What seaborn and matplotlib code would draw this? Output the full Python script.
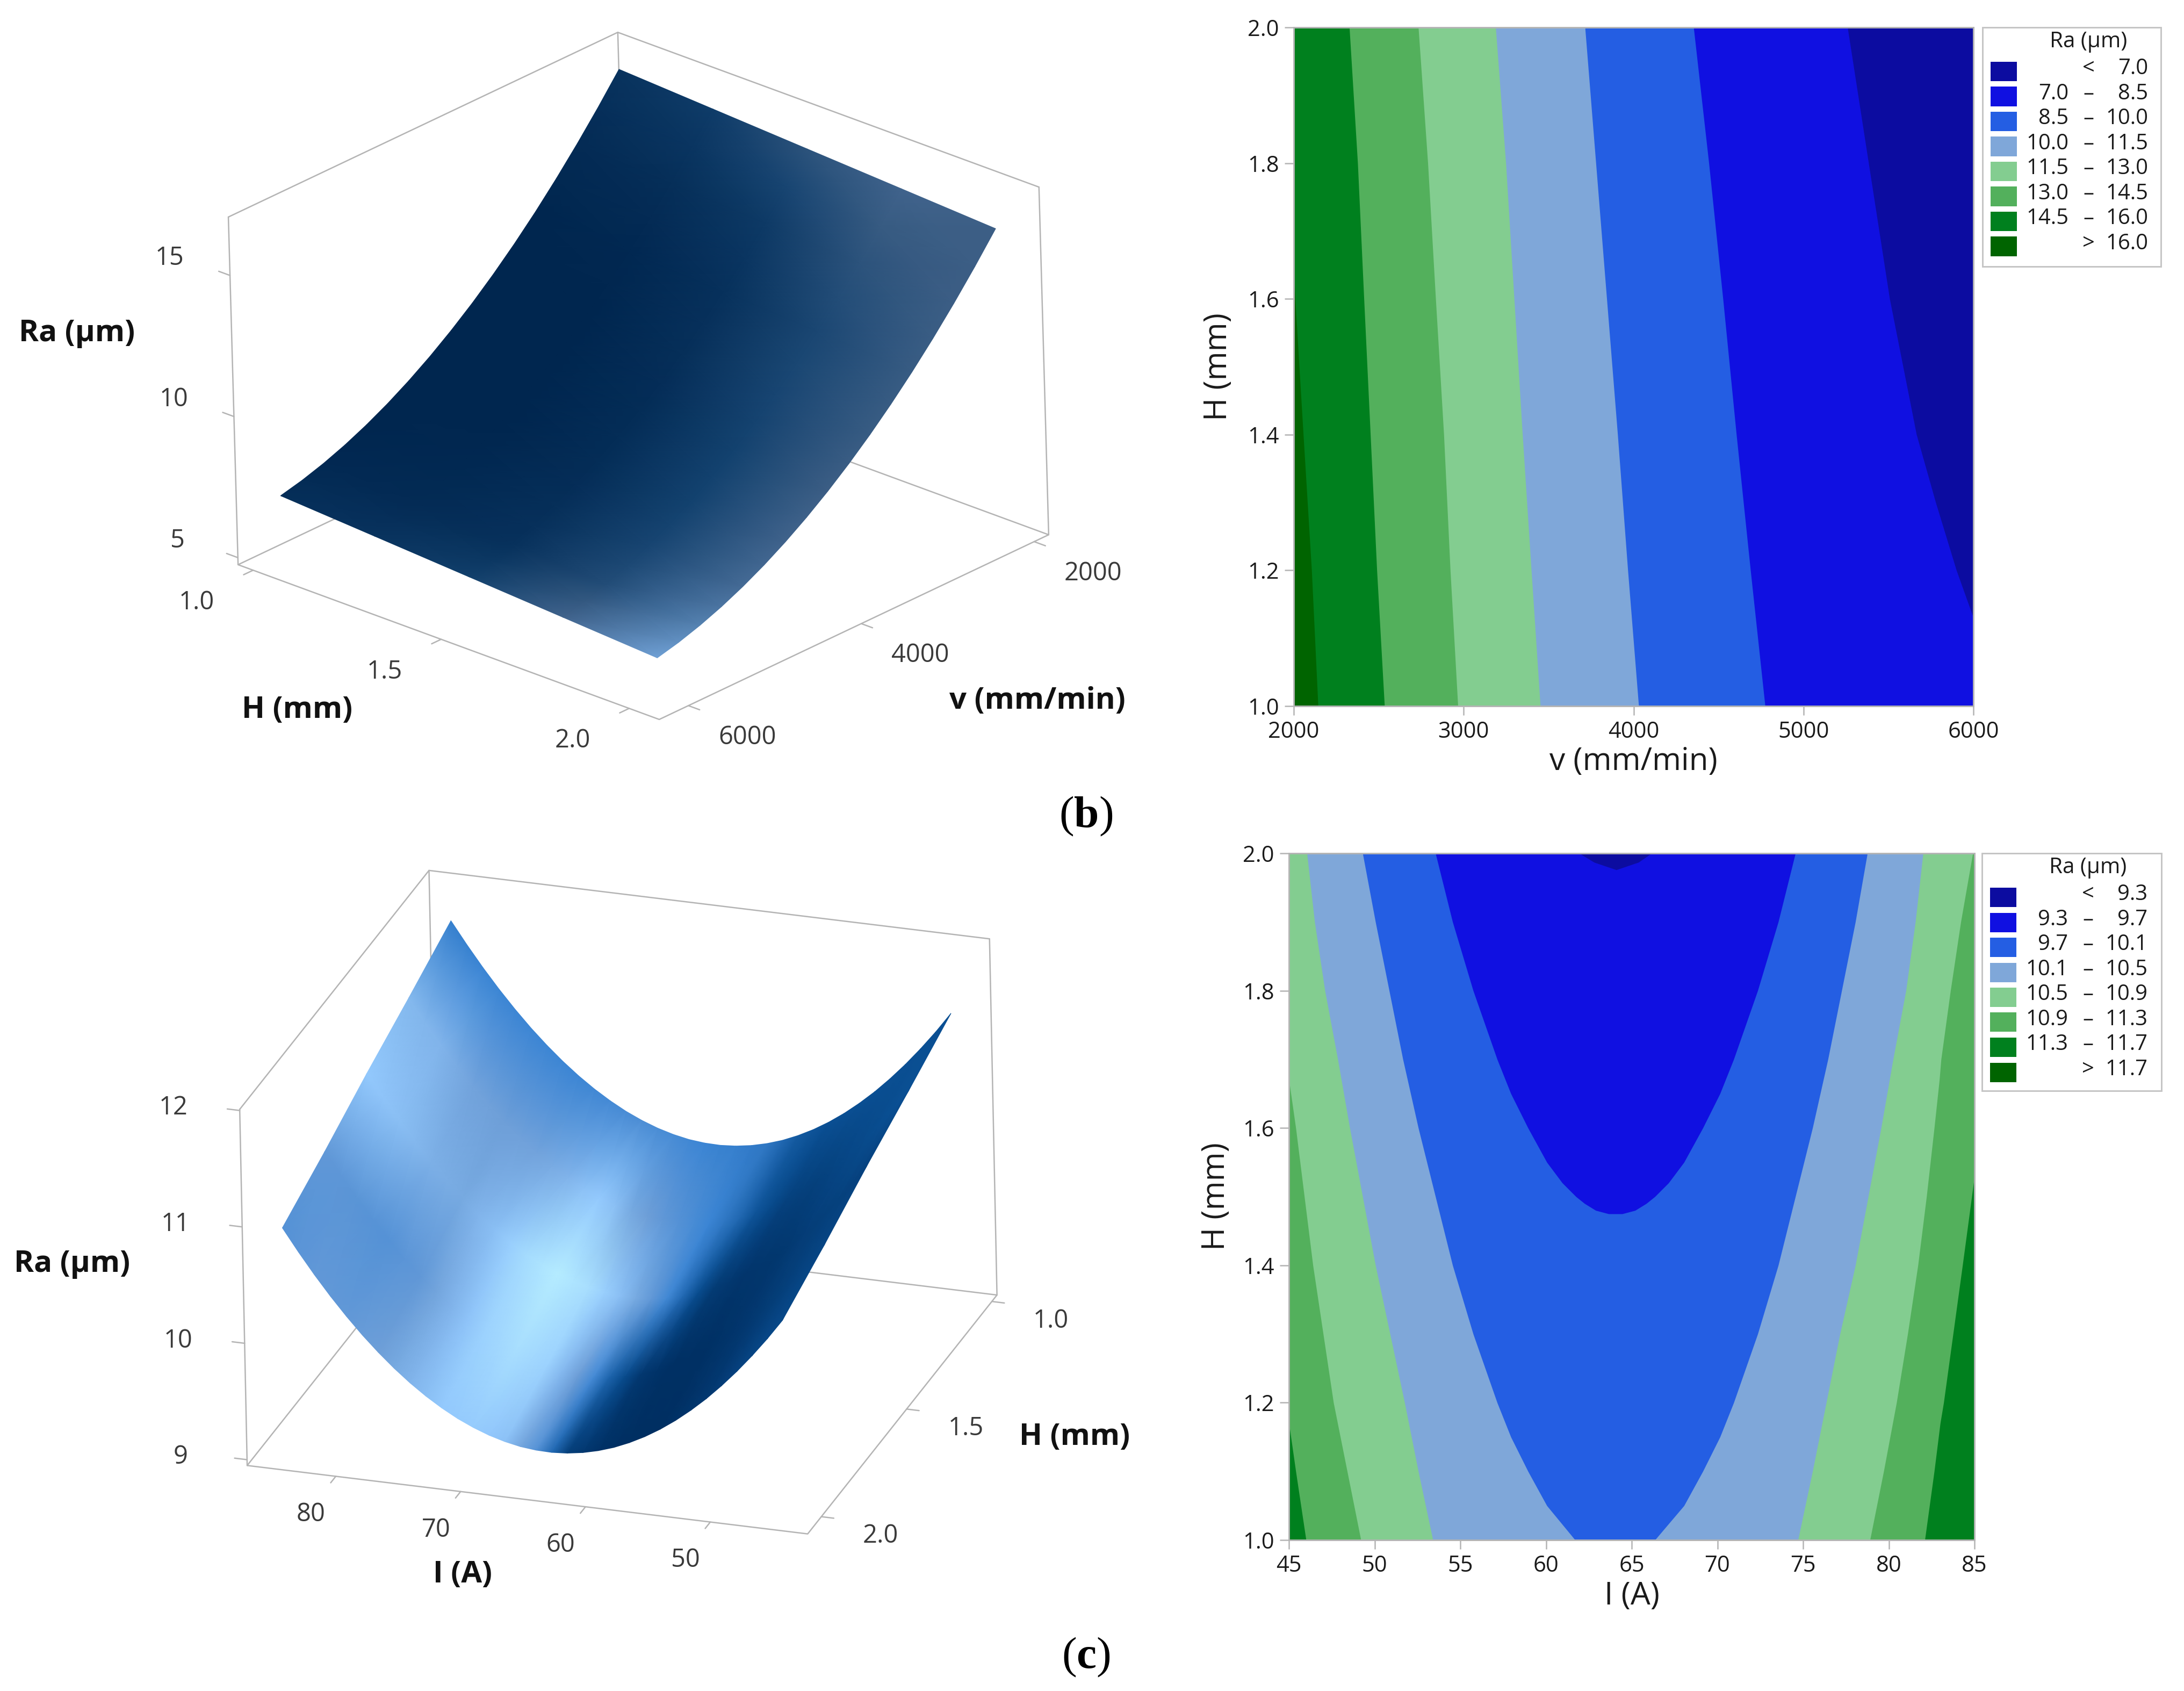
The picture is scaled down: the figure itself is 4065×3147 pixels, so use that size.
import numpy as np
import matplotlib
matplotlib.use('Agg')
import matplotlib.pyplot as plt
import seaborn as sns
from matplotlib.collections import QuadMesh
from matplotlib.patches import Rectangle
from mpl_toolkits.mplot3d import proj3d

W, H = 4065, 3147

contour_hex = ['#0C0CA0', '#1010E1', '#245EE3', '#7FA7D9', '#83CD90', '#53B05C', '#00801E', '#006400']

# top surface, Ra over v and H
v_surf = [2000, 2250, 2500, 2750, 3000, 3250, 3500, 3750, 4000, 4250, 4500, 4750, 5000, 5250, 5500, 5750, 6000]
h_surf = [1.0, 1.25, 1.5, 1.75, 2.0]
ra_surf_b = [
    [16.2, 15.22, 14.294, 13.421, 12.6, 11.833, 11.119, 10.457, 9.85, 9.295, 8.794, 8.345, 7.95, 7.607, 7.318, 7.082, 6.9],
    [16.013, 15.031, 14.103, 13.229, 12.406, 11.638, 10.922, 10.259, 9.65, 9.094, 8.591, 8.14, 7.744, 7.399, 7.109, 6.871, 6.688],
    [15.825, 14.842, 13.913, 13.036, 12.213, 11.443, 10.725, 10.061, 9.45, 8.892, 8.388, 7.936, 7.538, 7.192, 6.9, 6.66, 6.475],
    [15.638, 14.653, 13.722, 12.844, 12.019, 11.247, 10.528, 9.862, 9.25, 8.691, 8.184, 7.731, 7.331, 6.984, 6.69, 6.449, 6.263],
    [15.45, 14.464, 13.531, 12.651, 11.825, 11.052, 10.331, 9.664, 9.05, 8.489, 7.981, 7.526, 7.125, 6.776, 6.481, 6.238, 6.05],
]
shade_b = [
    [.12, .085, .05, .025, 0, 0, 0, 0, 0, 0, 0, 0, 0, .015, .03, .055, .08],
    [.2, .14, .08, .05, .02, .01, 0, 0, 0, 0, 0, .01, .02, .035, .05, .085, .12],
    [.4, .28, .18, .14, .1, .09, .08, .07, .06, .06, .06, .07, .08, .09, .1, .16, .22],
    [.55, .47, .4, .35, .3, .29, .28, .265, .25, .25, .25, .265, .28, .315, .35, .45, .55],
    [.5, .5, .5, .49, .48, .48, .48, .49, .5, .525, .55, .585, .62, .71, .8, .9, 1.0],
]

# bottom surface, Ra over I and H
i_surf = [45, 46.25, 47.5, 48.75, 50, 51.25, 52.5, 53.75, 55, 56.25, 57.5, 58.75, 60, 61.25, 62.5, 63.75,
          65, 66.25, 67.5, 68.75, 70, 71.25, 72.5, 73.75, 75, 76.25, 77.5, 78.75, 80, 81.25, 82.5, 83.75, 85]
ra_surf_c = [
    [11.389, 11.214, 11.052, 10.901, 10.762, 10.634, 10.519, 10.415, 10.323, 10.243, 10.175, 10.118, 10.074, 10.041, 10.02, 10.01,
     10.013, 10.027, 10.054, 10.092, 10.142, 10.203, 10.277, 10.362, 10.459, 10.568, 10.689, 10.821, 10.966, 11.122, 11.29, 11.47, 11.661],
    [11.189, 11.014, 10.852, 10.701, 10.562, 10.434, 10.319, 10.215, 10.123, 10.043, 9.975, 9.918, 9.874, 9.841, 9.82, 9.81,
     9.813, 9.827, 9.854, 9.892, 9.942, 10.003, 10.077, 10.162, 10.259, 10.368, 10.489, 10.621, 10.766, 10.922, 11.09, 11.27, 11.461],
    [10.999, 10.824, 10.662, 10.511, 10.372, 10.244, 10.129, 10.025, 9.933, 9.853, 9.785, 9.728, 9.684, 9.651, 9.63, 9.62,
     9.623, 9.637, 9.664, 9.702, 9.752, 9.813, 9.887, 9.972, 10.069, 10.178, 10.299, 10.431, 10.576, 10.732, 10.9, 11.08, 11.271],
    [10.789, 10.614, 10.452, 10.301, 10.162, 10.034, 9.919, 9.815, 9.723, 9.643, 9.575, 9.518, 9.474, 9.441, 9.42, 9.41,
     9.413, 9.427, 9.454, 9.492, 9.542, 9.603, 9.677, 9.762, 9.859, 9.968, 10.089, 10.221, 10.366, 10.522, 10.69, 10.87, 11.061],
    [10.599, 10.424, 10.262, 10.111, 9.972, 9.844, 9.729, 9.625, 9.533, 9.453, 9.385, 9.328, 9.284, 9.251, 9.23, 9.22,
     9.223, 9.237, 9.264, 9.302, 9.352, 9.413, 9.487, 9.572, 9.669, 9.778, 9.899, 10.031, 10.176, 10.332, 10.5, 10.68, 10.871],
]
shade_c = [
    [.2, .2, .2, .2, .2, .2, .2, .2, .2, .22, .24, .295, .35, .365, .38, .39,
     .4, .425, .45, .46, .47, .455, .44, .425, .41, .41, .41, .41, .41, .405, .4, .39, .38],
    [.2, .2, .19, .17, .15, .13, .11, .11, .12, .17, .22, .29, .35, .4, .45, .5,
     .55, .6, .65, .75, .8, .76, .7, .66, .62, .61, .6, .61, .62, .66, .7, .71, .72],
    [.12, .115, .11, .1, .09, .07, .05, .045, .04, .06, .08, .18, .3, .425, .55, .65,
     .75, .835, .92, .96, 1.0, .95, .9, .825, .75, .7, .65, .665, .68, .715, .75, .775, .8],
    [.14, .13, .12, .1, .08, .06, .04, .025, .01, .01, .01, .03, .06, .175, .28, .44,
     .6, .725, .85, .885, .92, .885, .85, .775, .7, .625, .55, .525, .5, .51, .52, .535, .55],
    [.16, .15, .14, .12, .09, .06, .04, .02, 0, 0, 0, .01, .02, .06, .1, .3,
     .5, .63, .76, .79, .82, .81, .8, .75, .7, .65, .6, .575, .55, .55, .55, .525, .5],
]

# contour (b), where each Ra level crosses H
levels_b = [7.0, 8.5, 10.0, 11.5, 13.0, 14.5, 16.0]
h_line = [1.0, 1.2, 1.4, 1.6, 1.8, 2.0]
h_70 = [1.0, 1.13, 1.2, 1.3, 1.4, 1.6, 1.8, 2.0]
v_70 = [6000, 6000, 5900, 5778, 5665, 5507, 5383, 5259]
v_85 = [4774, 4688, 4605, 4526, 4443, 4353]
v_100 = [4030, 3966, 3906, 3842, 3778, 3714]
v_115 = [3451, 3398, 3346, 3297, 3248, 3188]
v_130 = [2966, 2921, 2883, 2835, 2789, 2733]
v_145 = [2534, 2489, 2451, 2413, 2376, 2327]
h_160 = [1.0, 1.2, 1.4, 1.6, 1.65]
v_160 = [2143, 2105, 2056, 2008, 2000]

# contour (c), left and right crossing of each Ra level
levels_c = [9.3, 9.7, 10.1, 10.5, 10.9, 11.3, 11.7]
h_113 = [1.0, 1.1, 1.17, 1.2, 1.3, 1.4, 1.53, 2.0]
l_113 = [46.0, 45.4, 45, 45, 45, 45, 45, 45]
r_113 = [82.1, 82.65, 83.0, 83.2, 83.75, 84.3, 85, 85]
h_109 = [1.0, 1.1, 1.2, 1.3, 1.4, 1.5, 1.6, 1.67, 1.7, 1.8, 1.9, 2.0]
l_109 = [49.2, 48.4, 47.6, 47.0, 46.4, 45.9, 45.4, 45, 45, 45, 45, 45]
r_109 = [78.9, 79.7, 80.45, 81.1, 81.7, 82.2, 82.65, 82.95, 83.05, 83.6, 84.2, 84.9]
h_105 = [2.0, 1.9, 1.8, 1.7, 1.6, 1.5, 1.4, 1.3, 1.2, 1.1, 1.0]
l_105 = [46.05, 46.5, 47.1, 47.85, 48.55, 49.3, 50.05, 50.9, 51.75, 52.55, 53.4]
r_105 = [82.0, 81.55, 81.0, 80.25, 79.55, 78.8, 78.05, 77.15, 76.35, 75.55, 74.7]
h_101 = [2.0, 1.9, 1.8, 1.7, 1.6, 1.5, 1.4, 1.3, 1.2, 1.15, 1.1, 1.05, 1.0]
l_101 = [49.3, 50.05, 50.85, 51.65, 52.55, 53.55, 54.55, 55.75, 57.15, 57.95, 58.95, 60.05, 61.7]
r_101 = [78.75, 78.05, 77.25, 76.45, 75.55, 74.55, 73.55, 72.35, 70.95, 70.15, 69.15, 68.05, 66.35]
h_97 = [2.0, 1.95, 1.9, 1.85, 1.8, 1.75, 1.7, 1.65, 1.6, 1.55, 1.52, 1.5, 1.49, 1.48, 1.475]
l_97 = [53.55, 54.05, 54.55, 55.15, 55.75, 56.45, 57.15, 57.95, 58.95, 60.05, 60.95, 61.75, 62.25, 62.9, 63.65]
r_97 = [74.55, 74.05, 73.55, 72.95, 72.35, 71.65, 70.95, 70.15, 69.15, 68.05, 67.15, 66.35, 65.85, 65.2, 64.45]
h_93 = [2.0, 1.987, 1.976]
l_93 = [61.95, 62.8, 64.1]
r_93 = [66.15, 65.4, 64.1]


class FlatMesh(QuadMesh):
    # gouraud mesh on already projected points
    def do_3d_projection(self):
        return 0


def px_text(fig, x, y, s, **kw):
    fig.text(x / W, 1 - y / H, s, ha='center', va='center', **kw)


def to_display(ax, pts):
    pts = np.array(pts, dtype=float)
    x2, y2, _ = proj3d.proj_transform(pts[:, 0], pts[:, 1], pts[:, 2], ax.get_proj())
    return ax.transData.transform(np.column_stack([x2, y2]))


def fit_box(ax, aspect, corners, targets):
    # scale and move the axes so the box corners land on the target pixels
    size = 2800
    targets = np.array([[x, H - y] for x, y in targets], dtype=float)
    ax.set_position([0, 0, size / W, size / H])
    ax.apply_aspect()
    ax.set_box_aspect(aspect, zoom=1)
    p = to_display(ax, corners)
    scale = np.linalg.norm(targets[0] - targets[1]) / np.linalg.norm(p[0] - p[1])
    ax.set_box_aspect(aspect, zoom=scale)
    p = to_display(ax, corners)
    shift = targets.mean(axis=0) - p.mean(axis=0)
    ax.set_position([shift[0] / W, shift[1] / H, size / W, size / H])
    ax.apply_aspect()


def draw_box(ax, back, front, zlim):
    xb, yb = back
    xf, yf = front
    z0, z1 = zlim
    edges = [
        [(xb, yb, z0), (xb, yf, z0), (xf, yf, z0), (xf, yb, z0), (xb, yb, z0)],
        [(xb, yb, z0), (xb, yb, z1)],
        [(xb, yf, z0), (xb, yf, z1)],
        [(xf, yb, z0), (xf, yb, z1)],
        [(xb, yf, z1), (xb, yb, z1), (xf, yb, z1)],
    ]
    for e in edges:
        e = np.array(e)
        ax.plot(e[:, 0], e[:, 1], e[:, 2], color=box_color, lw=0.6, clip_on=False, zorder=1)


def draw_ticks(ax, starts, ends, labels, offset):
    for s, e, lab in zip(starts, ends, labels):
        ax.plot([s[0], e[0]], [s[1], e[1]], [s[2], e[2]], color=box_color, lw=0.6, clip_on=False, zorder=1)
        x2, y2, _ = proj3d.proj_transform(s[0], s[1], s[2], ax.get_proj())
        ax.annotate(lab, xy=(x2, y2), xytext=offset, textcoords='offset pixels', ha='center', va='center',
                    fontsize=11.3, color='#3a3a3a', annotation_clip=False)


def draw_surface(ax, xs, ys, zs, shade, cmap):
    X, Y = np.meshgrid(xs, ys)
    zs = np.array(zs)
    x2, y2, _ = proj3d.proj_transform(X.ravel(), Y.ravel(), zs.ravel(), ax.get_proj())
    coords = np.column_stack([x2, y2]).reshape(X.shape[0], X.shape[1], 2)
    mesh = FlatMesh(coords, shading='gouraud', cmap=cmap, norm=plt.Normalize(0, 1),
                    transform=ax.transData, antialiased=False, zorder=5)
    mesh.set_array(np.array(shade))
    mesh.set_clip_on(False)
    ax.add_collection(mesh, autolim=False)


def surface_axes(fig, xlim, ylim, zlim, elev, azim, roll):
    ax = fig.add_subplot(projection='3d', proj_type='ortho', computed_zorder=False)
    ax.set_xlim(*xlim, view_margin=0)
    ax.set_ylim(*ylim, view_margin=0)
    ax.set_zlim(*zlim, view_margin=0)
    ax.view_init(elev=elev, azim=azim, roll=roll)
    ax.set_axis_off()
    ax.patch.set_visible(False)
    return ax


def contour_axes(fig, box, xlim, xticks, xlabel, label_y, ylabel, label_x):
    left, top, right, bottom = box
    ax = fig.add_axes([left / W, 1 - bottom / H, (right - left) / W, (bottom - top) / H])
    ax.set_xlim(*xlim)
    ax.set_ylim(1.0, 2.0)
    ax.set_xticks(xticks)
    ax.set_yticks([1.0, 1.2, 1.4, 1.6, 1.8, 2.0])
    ax.set_yticklabels(['1.0', '1.2', '1.4', '1.6', '1.8', '2.0'])
    ax.tick_params(length=4, width=0.6, color=box_color, labelsize=10, labelcolor='#1a1a1a', pad=2.5,
                   bottom=True, left=True)
    for s in ax.spines.values():
        s.set_color(box_color)
        s.set_linewidth(0.7)
    ax.set_xlabel(xlabel, fontsize=14, color='#1a1a1a', va='center')
    ax.set_ylabel(ylabel, fontsize=14, color='#1a1a1a', va='center')
    ax.xaxis.set_label_coords(0.5, label_y)
    ax.yaxis.set_label_coords(label_x, 0.5)
    return ax


def draw_legend(fig, left, top, right, bottom, levels):
    fig.add_artist(Rectangle((left / W, 1 - bottom / H), (right - left) / W, (bottom - top) / H,
                             transform=fig.transFigure, facecolor='white', edgecolor='#c4c4c4', lw=0.7))
    px_text(fig, left + 197, top + 27, 'Ra (µm)', fontsize=9.7, color='#1a1a1a')
    for i, col in enumerate(contour_colors):
        yc = top + 82 + i * 46.5
        fig.add_artist(Rectangle(((left + 15) / W, 1 - (yc + 18) / H), 49 / W, 36 / H,
                                 transform=fig.transFigure, facecolor=col, edgecolor='none'))
        if i == 0:
            low, mid, high = '', '<', f'{levels[0]:.1f}'
        elif i == len(levels):
            low, mid, high = '', '>', f'{levels[-1]:.1f}'
        else:
            low, mid, high = f'{levels[i - 1]:.1f}', '–', f'{levels[i]:.1f}'
        for x, s, ha in [(left + 160, low, 'right'), (left + 197, mid, 'center'), (left + 308, high, 'right')]:
            fig.text(x / W, 1 - (yc - 5) / H, s, ha=ha, va='center', fontsize=9.6, color='#1a1a1a')


sns.set_style('white')
plt.rcParams['font.family'] = ['Open Sans', 'DejaVu Sans']
plt.rcParams['mathtext.fontset'] = 'custom'
plt.rcParams['mathtext.bf'] = 'Liberation Serif:bold'
plt.rcParams['mathtext.rm'] = 'Liberation Serif'

box_color = '#b4b4b4'
contour_colors = sns.color_palette(contour_hex)
cmap_b = sns.blend_palette(['#00264F', '#13426F', '#3C5E85', '#4F7AA8', '#6FA0D5'], as_cmap=True)
cmap_c = sns.blend_palette(['#002F62', '#0A4F93', '#3B85D4', '#6E9FD8', '#93C9FD', '#B5ECFF'], as_cmap=True)

fig = plt.figure(figsize=(W / 300, H / 300), dpi=300, facecolor='white')

# (b) surface
xl, yl, zl = (1832, 6337), (0.96, 2.08), (4.75, 17.07)
ax = surface_axes(fig, xl, yl, zl, 24.8, 43.6, 1.6)
fit_box(ax, (1.493, 1.502, 1.0),
        [(xl[1], yl[0], zl[0]), (xl[0], yl[1], zl[0]), (xl[1], yl[1], zl[0])],
        [(446, 1047), (1955, 999), (1221, 1339)])
draw_box(ax, (xl[0], yl[0]), (xl[1], yl[1]), zl)
draw_ticks(ax, [(xl[1], yl[0], z) for z in [5, 10, 15]], [(xl[1], yl[0] - 0.03, z) for z in [5, 10, 15]],
           ['5', '10', '15'], (-112, 32))
draw_ticks(ax, [(xl[1], h, zl[0]) for h in [1.0, 1.5, 2.0]], [(xl[1] + 110, h, zl[0]) for h in [1.0, 1.5, 2.0]],
           ['1.0', '1.5', '2.0'], (-105, -60))
draw_ticks(ax, [(v, yl[1], zl[0]) for v in [2000, 4000, 6000]], [(v, yl[1] + 0.03, zl[0]) for v in [2000, 4000, 6000]],
           ['2000', '4000', '6000'], (110, -59))
draw_surface(ax, v_surf, h_surf, ra_surf_b, shade_b, cmap_b)
bold3d = dict(fontsize=13.5, fontweight='bold', color='#111111')
px_text(fig, 143, 620, 'Ra (µm)', **bold3d)
px_text(fig, 553, 1321, 'H (mm)', **bold3d)
px_text(fig, 1931, 1304, 'v (mm/min)', **bold3d)

# (c) surface
xl, yl, zl = (42.2, 87.1), (0.97, 2.08), (8.95, 12.01)
ax = surface_axes(fig, xl, yl, zl, 24.6, 109.0, 1.2)
fit_box(ax, (1.509, 1.523, 1.0),
        [(xl[1], yl[1], zl[0]), (xl[0], yl[0], zl[0]), (xl[0], yl[1], zl[0])],
        [(462, 2724), (1859, 2413), (1498, 2855)])
draw_box(ax, (xl[1], yl[0]), (xl[0], yl[1]), zl)
draw_ticks(ax, [(xl[1], yl[1], z) for z in [9, 10, 11, 12]], [(xl[1] + 1.0, yl[1], z) for z in [9, 10, 11, 12]],
           ['9', '10', '11', '12'], (-124, 5))
draw_ticks(ax, [(i, yl[1], zl[0]) for i in [50, 60, 70, 80]], [(i, yl[1] + 0.03, zl[0]) for i in [50, 60, 70, 80]],
           ['50', '60', '70', '80'], (-46, -71))
draw_ticks(ax, [(xl[0], h, zl[0]) for h in [1.0, 1.5, 2.0]], [(xl[0] - 1.0, h, zl[0]) for h in [1.0, 1.5, 2.0]],
           ['1.0', '1.5', '2.0'], (110, -36))
draw_surface(ax, i_surf, h_surf, ra_surf_c, shade_c, cmap_c)
px_text(fig, 134, 2353, 'Ra (µm)', **bold3d)
px_text(fig, 861, 2931, 'I (A)', **bold3d)
px_text(fig, 2000, 2675, 'H (mm)', **bold3d)

# (b) contour
ax = contour_axes(fig, (2408, 51, 3673, 1314), (2000, 6000), [2000, 3000, 4000, 5000, 6000],
                  'v (mm/min)', -0.082, 'H (mm)', -0.111)
ax.fill_betweenx([1.0, 2.0], 2000, 6000, color=contour_colors[0], lw=0)
ax.fill_betweenx(h_70, 2000, v_70, color=contour_colors[1], lw=0)
ax.fill_betweenx(h_line, 2000, v_85, color=contour_colors[2], lw=0)
ax.fill_betweenx(h_line, 2000, v_100, color=contour_colors[3], lw=0)
ax.fill_betweenx(h_line, 2000, v_115, color=contour_colors[4], lw=0)
ax.fill_betweenx(h_line, 2000, v_130, color=contour_colors[5], lw=0)
ax.fill_betweenx(h_line, 2000, v_145, color=contour_colors[6], lw=0)
ax.fill_betweenx(h_160, 2000, v_160, color=contour_colors[7], lw=0)
draw_legend(fig, 3690, 51, 4022, 496, levels_b)

# (c) contour
ax = contour_axes(fig, (2399, 1588, 3675, 2866), (45, 85), [45, 50, 55, 60, 65, 70, 75, 80, 85],
                  'I (A)', -0.082, 'H (mm)', -0.106)
ax.fill_betweenx([1.0, 2.0], 45, 85, color=contour_colors[6], lw=0)
ax.fill_betweenx(h_113, l_113, r_113, color=contour_colors[5], lw=0)
ax.fill_betweenx(h_109, l_109, r_109, color=contour_colors[4], lw=0)
ax.fill_betweenx(h_105, l_105, r_105, color=contour_colors[3], lw=0)
ax.fill_betweenx(h_101, l_101, r_101, color=contour_colors[2], lw=0)
ax.fill_betweenx(h_97, l_97, r_97, color=contour_colors[1], lw=0)
ax.fill_betweenx(h_93, l_93, r_93, color=contour_colors[0], lw=0)
draw_legend(fig, 3689, 1588, 4023, 2030, levels_c)

serif = dict(fontsize=20, family=['Liberation Serif', 'DejaVu Serif'], color='black')
px_text(fig, 2021, 1519, r'($\mathbf{b}$)', **serif)
px_text(fig, 2021, 3084, r'($\mathbf{c}$)', **serif)

fig.savefig('out.png', dpi=300)
plt.close(fig)
